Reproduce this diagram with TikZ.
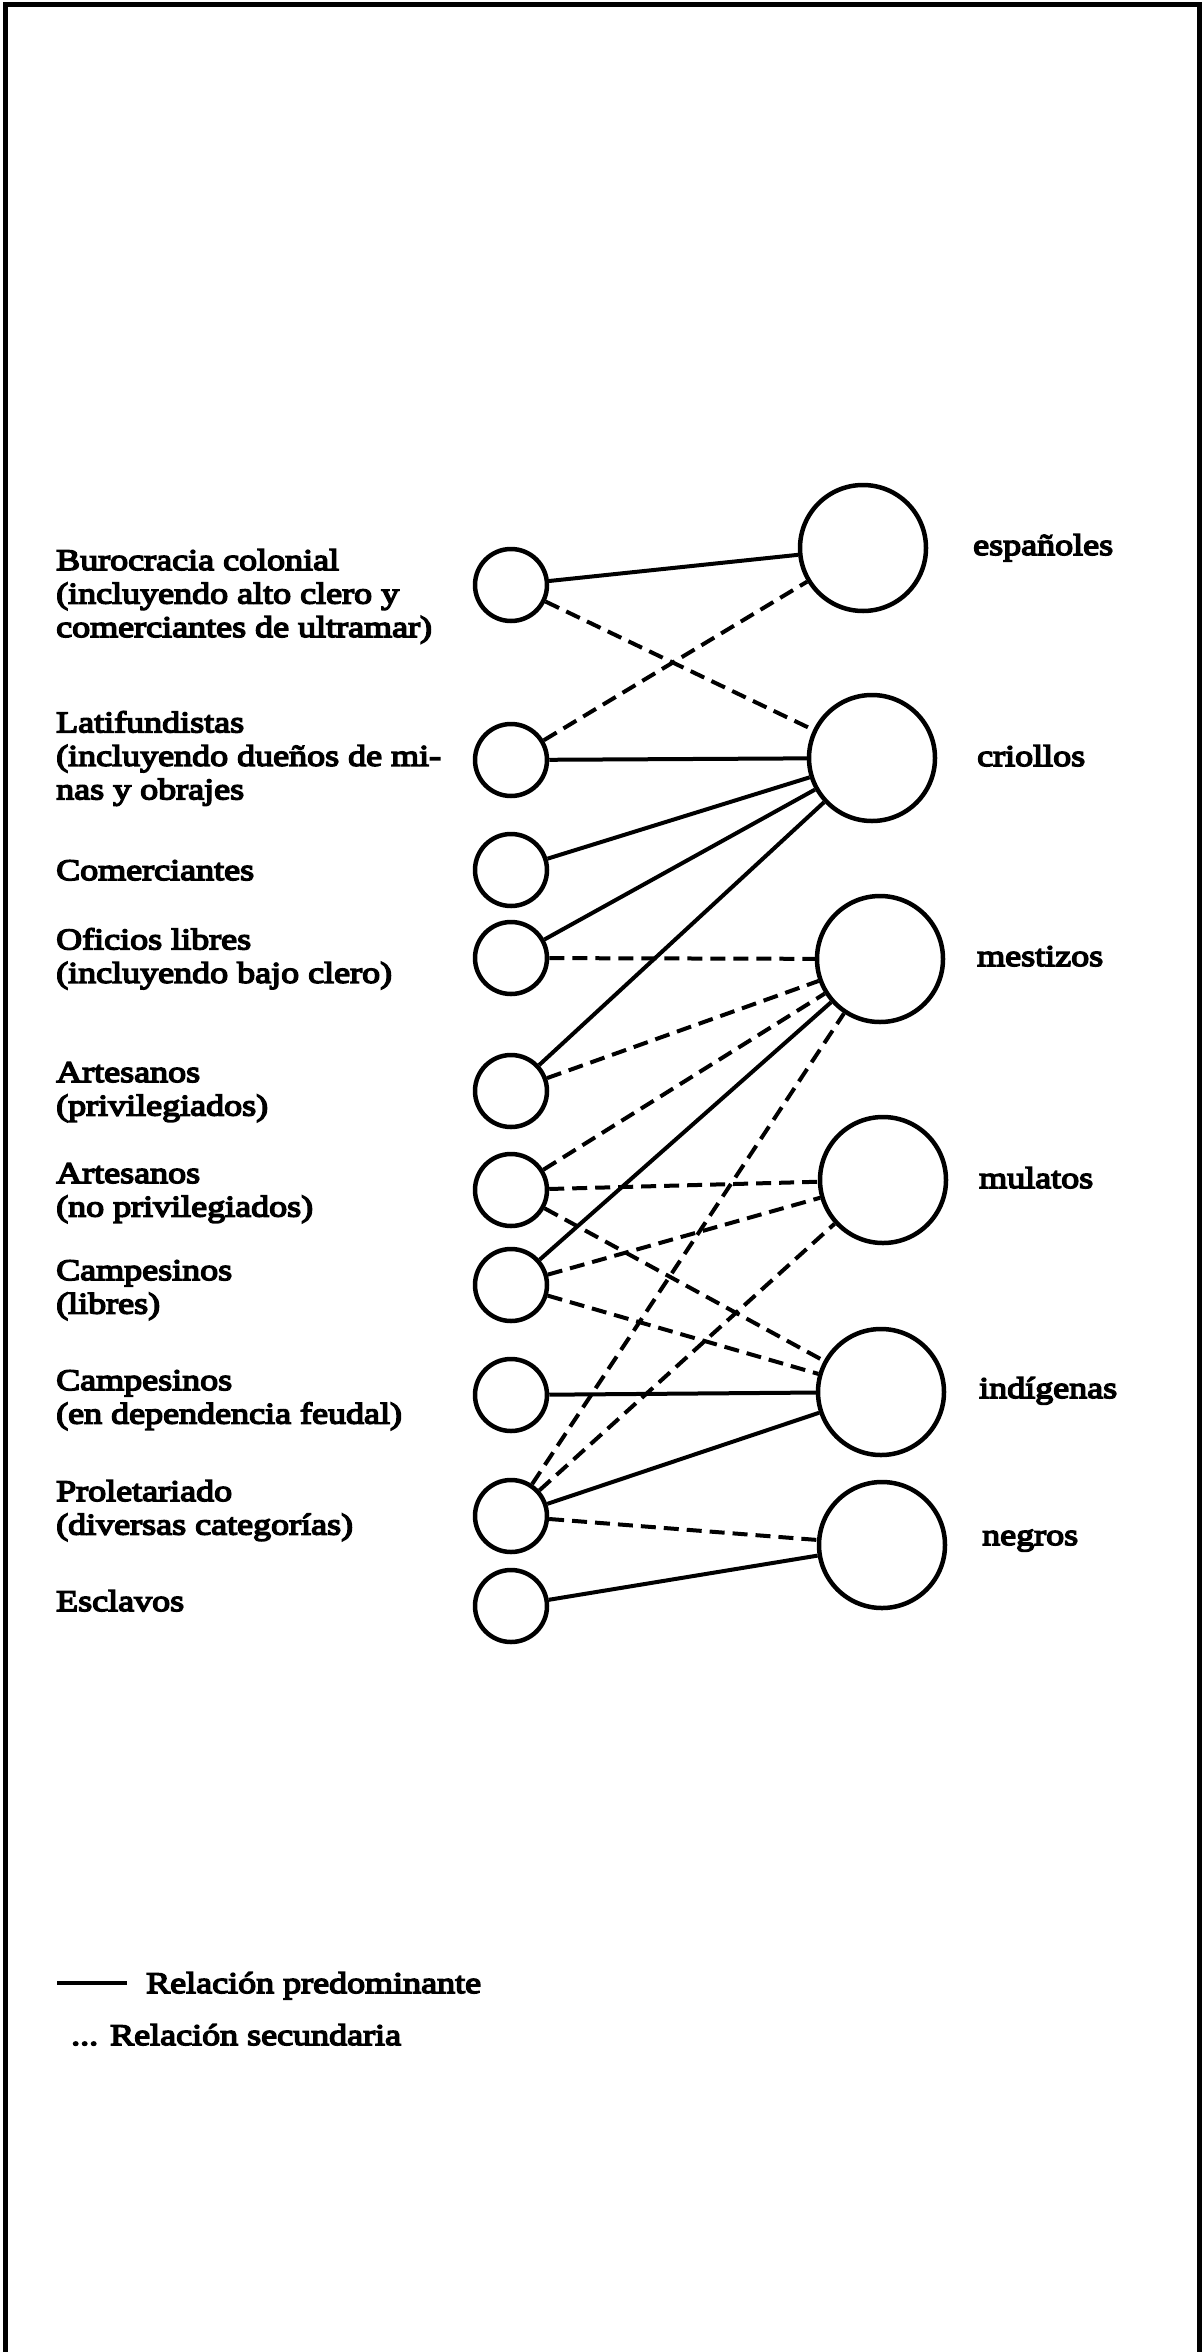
\documentclass[tikz,border=0pt]{standalone}
\usepackage{fontspec}
\setmainfont{Liberation Serif}[FakeStretch=1.2,FakeBold=5]
\begin{document}
\begin{tikzpicture}[x=1pt,y=-1pt]
\tikzset{clase/.style={draw, circle, line width=4.5pt, minimum size=72pt, inner sep=0pt},
grupo/.style={draw, circle, line width=4.5pt, minimum size=126pt, inner sep=0pt},
texto/.style={inner sep=0pt, align=left, font=\fontsize{30}{33.5}\selectfont},
fuerte/.style={line width=4pt},
debil/.style={line width=4pt, dash pattern=on 15pt off 8pt}}
\useasboundingbox (0,0) rectangle (1204,2352);
\draw[line width=5pt] (5,2352) -- (5,5) -- (1199,5) -- (1199,2352);
% clases
\node[clase] (C1) at (511,585) {};
\node[clase] (C2) at (511,760) {};
\node[clase] (C3) at (511,870) {};
\node[clase] (C4) at (511,958) {};
\node[clase] (C5) at (511,1091) {};
\node[clase] (C6) at (511,1190) {};
\node[clase] (C7) at (511,1285) {};
\node[clase] (C8) at (511,1395) {};
\node[clase] (C9) at (511,1516) {};
\node[clase] (C10) at (511,1606) {};
% grupos
\node[grupo] (G1) at (863,548) {};
\node[grupo] (G2) at (872,758) {};
\node[grupo] (G3) at (880,959) {};
\node[grupo] (G4) at (883,1180) {};
\node[grupo] (G5) at (881,1392) {};
\node[grupo] (G6) at (882,1545) {};
% textos
\node[texto, anchor=north west] (L1) at (56,549) {Burocracia colonial\\(incluyendo alto clero y\\comerciantes de ultramar)};
\node[texto, anchor=north west] (L2) at (56,711) {Latifundistas\\(incluyendo dueños de mi-\\nas y obrajes};
\node[texto, anchor=north west] (L3) at (56,860) {Comerciantes};
\node[texto, anchor=north west] (L4) at (56,928) {Oficios libres\\(incluyendo bajo clero)};
\node[texto, anchor=north west] (L5) at (56,1062) {Artesanos\\(privilegiados)};
\node[texto, anchor=north west] (L6) at (56,1163) {Artesanos\\(no privilegiados)};
\node[texto, anchor=north west] (L7) at (56,1260) {Campesinos\\(libres)};
\node[texto, anchor=north west] (L8) at (56,1370) {Campesinos\\(en dependencia feudal)};
\node[texto, anchor=north west] (L9) at (56,1480) {Proletariado\\(diversas categorías)};
\node[texto, anchor=north west] (L10) at (56,1590) {Esclavos};
\node[texto, anchor=base west] (R1) at (973,555) {españoles};
\node[texto, anchor=base west] (R2) at (977,766) {criollos};
\node[texto, anchor=base west] (R3) at (977,966) {mestizos};
\node[texto, anchor=base west] (R4) at (979,1188) {mulatos};
\node[texto, anchor=base west] (R5) at (979,1398) {indígenas};
\node[texto, anchor=base west] (R6) at (982,1545) {negros};
% relaciones
\draw[fuerte] (C1) -- (G1);
\draw[debil] (C1) -- (G2);
\draw[debil] (C2) -- (G1);
\draw[fuerte] (C2) -- (G2);
\draw[fuerte] (C3) -- (G2);
\draw[fuerte] (C4) -- (G2);
\draw[debil] (C4) -- (G3);
\draw[fuerte] (C5) -- (G2);
\draw[debil] (C5) -- (G3);
\draw[debil] (C6) -- (G3);
\draw[debil] (C6) -- (G4);
\draw[debil] (C6) -- (G5);
\draw[fuerte] (C7) -- (G3);
\draw[debil] (C7) -- (G4);
\draw[debil] (C7) -- (G5);
\draw[fuerte] (C8) -- (G5);
\draw[debil] (C9) -- (G3);
\draw[debil] (C9) -- (G4);
\draw[fuerte] (C9) -- (G5);
\draw[debil] (C9) -- (G6);
\draw[fuerte] (C10) -- (G6);
% leyenda
\coordinate (A) at (57,1983);
\coordinate (B) at (127,1983);
\draw[line width=3.5pt] (A) -- (B);
\node[texto, anchor=base west] (P) at (146,1993) {Relación predominante};
\node[texto, anchor=base west] (S) at (71,2045) {... Relación secundaria};
\end{tikzpicture}
\end{document}
